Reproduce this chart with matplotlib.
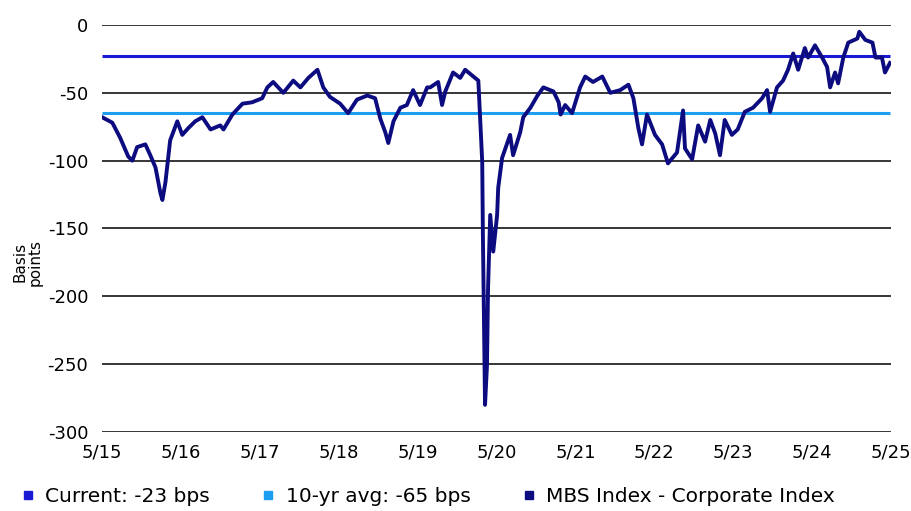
"""MBS vs corporate spread chart, basis points."""

import matplotlib
matplotlib.use('Agg')
import matplotlib.pyplot as plt
from matplotlib.lines import Line2D
import pandas as pd

# spread history
dates = [
    "2015-05-01", "2015-06-17", "2015-07-23", "2015-08-30", "2015-09-18",
    "2015-10-10", "2015-11-17", "2015-12-10", "2016-01-03", "2016-01-26",
    "2016-02-04", "2016-02-18", "2016-03-11", "2016-04-13", "2016-05-06",
    "2016-06-03", "2016-07-05", "2016-08-07", "2016-09-14", "2016-10-29",
    "2016-11-13", "2016-12-24", "2017-02-09", "2017-03-25", "2017-05-11",
    "2017-06-04", "2017-07-01", "2017-08-17", "2017-10-02", "2017-11-04",
    "2017-12-11", "2018-01-22", "2018-02-18", "2018-03-21", "2018-05-07",
    "2018-06-13", "2018-07-24", "2018-09-10", "2018-10-16", "2018-11-09",
    "2018-12-02", "2018-12-16", "2019-01-09", "2019-02-10", "2019-03-12",
    "2019-04-10", "2019-05-12", "2019-06-14", "2019-06-28", "2019-08-04",
    "2019-08-22", "2019-09-06", "2019-10-12", "2019-11-14", "2019-12-07",
    "2020-01-14", "2020-02-06", "2020-02-15", "2020-02-24", "2020-02-27",
    "2020-03-08", "2020-03-17", "2020-03-22", "2020-04-01", "2020-04-15",
    "2020-05-03", "2020-05-08", "2020-05-26", "2020-07-02", "2020-07-16",
    "2020-08-18", "2020-09-01", "2020-10-04", "2020-11-06", "2020-12-03",
    "2021-01-19", "2021-02-12", "2021-02-21", "2021-03-14", "2021-04-15",
    "2021-05-22", "2021-06-15", "2021-07-21", "2021-09-02", "2021-10-09",
    "2021-11-24", "2022-01-01", "2022-01-24", "2022-02-16", "2022-03-05",
    "2022-03-28", "2022-05-04", "2022-06-06", "2022-07-03", "2022-08-14",
    "2022-09-11", "2022-09-20", "2022-10-23", "2022-11-20", "2022-12-22",
    "2023-01-15", "2023-02-07", "2023-03-01", "2023-03-23", "2023-04-25",
    "2023-05-22", "2023-06-24", "2023-08-01", "2023-09-12", "2023-10-05",
    "2023-10-19", "2023-11-20", "2023-12-18", "2024-01-10", "2024-02-03",
    "2024-02-26", "2024-03-28", "2024-04-12", "2024-05-14", "2024-06-16",
    "2024-07-09", "2024-07-23", "2024-08-15", "2024-08-29", "2024-09-22",
    "2024-10-15", "2024-11-26", "2024-12-05", "2025-01-02", "2025-02-04",
    "2025-02-18", "2025-03-20", "2025-04-03", "2025-04-26",
]
spread = [
    -68, -72, -83, -97, -100,
    -90, -88, -96, -105, -124,
    -129, -116, -85, -71, -81,
    -76, -71, -68, -77, -74,
    -77, -66, -58, -57, -54,
    -46, -42, -50, -41, -46,
    -39, -33, -46, -53, -58,
    -65, -55, -52, -54, -69,
    -79, -87, -71, -61, -59,
    -48, -59, -46, -46, -42,
    -59, -49, -35, -39, -33,
    -38, -41, -71, -101, -153,
    -280, -251, -194, -140, -167,
    -140, -120, -98, -81, -96,
    -79, -68, -61, -52, -46,
    -49, -57, -66, -59, -65,
    -46, -38, -42, -38, -50,
    -48, -44, -54, -76, -88,
    -66, -81, -88, -102, -94,
    -63, -91, -99, -74, -86,
    -70, -80, -96, -70, -81,
    -77, -64, -61, -54, -48,
    -64, -46, -41, -33, -21,
    -33, -17, -24, -15, -24,
    -31, -46, -35, -43, -24,
    -13, -10, -5, -11, -13,
    -24, -24, -35, -28,
]
current = -23
ten_yr_avg = -65

tick_dates = ["2015-05-01", "2016-05-01", "2017-05-01", "2018-05-01",
              "2019-05-01", "2020-05-01", "2021-05-01", "2022-05-01",
              "2023-05-01", "2024-05-01", "2025-05-01"]
tick_labels = ["5/15", "5/16", "5/17", "5/18", "5/19", "5/20",
               "5/21", "5/22", "5/23", "5/24", "5/25"]
y_ticks = [0, -50, -100, -150, -200, -250, -300]

c_series = '#0c0c80'
c_current = '#1a1ad2'
c_avg = '#1e9ef0'

x = pd.to_datetime(dates)
ticks = pd.to_datetime(tick_dates)

fig = plt.figure(figsize=(9.12, 5.11), dpi=100)
ax = fig.add_axes([0.112, 0.1546, 0.865, 0.7965])

for yv in y_ticks:
    ax.axhline(yv, color='black', lw=1.1, zorder=1)

ax.hlines(current, ticks[0], x[-1], color=c_current, lw=2.2, zorder=2)
ax.hlines(ten_yr_avg, ticks[0], x[-1], color=c_avg, lw=2.2, zorder=2)
ax.plot(x, spread, color=c_series, lw=2.8, zorder=3)

ax.set_xlim(ticks[0], ticks[-1])
ax.set_ylim(-300, 0)
ax.set_xticks(ticks)
ax.set_xticklabels(tick_labels, fontsize=13)
ax.set_yticks(y_ticks)
ax.set_yticklabels([str(v) for v in y_ticks], fontsize=13)
ax.tick_params(axis='both', length=0)
ax.tick_params(axis='y', pad=10)
ax.tick_params(axis='x', pad=8)
for s in ax.spines.values():
    s.set_visible(False)

fig.text(28 / 912, 1 - 262 / 511, 'Basis\npoints', rotation=90,
         ha='center', va='center', fontsize=11, linespacing=1.0)

handles = [
    Line2D([], [], ls='none', marker='s', ms=6, color=c_current,
           label='Current: -23 bps'),
    Line2D([], [], ls='none', marker='s', ms=6, color=c_avg,
           label='10-yr avg: -65 bps'),
    Line2D([], [], ls='none', marker='s', ms=6, color=c_series,
           label='MBS Index - Corporate Index'),
]
fig.legend(handles=handles, loc='lower left',
           bbox_to_anchor=(0.0, -0.025), ncol=3, frameon=False,
           fontsize=14.5, handletextpad=0.35, columnspacing=2.4,
           handlelength=1.0)

plt.savefig('out.png', dpi=100)
plt.close()
